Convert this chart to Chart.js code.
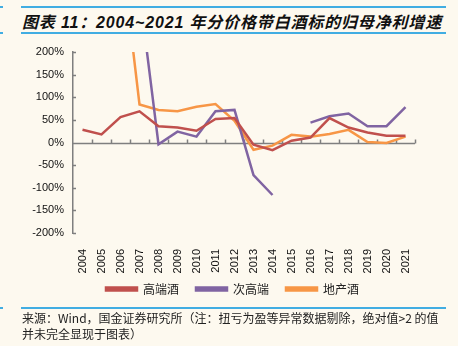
<!DOCTYPE html>
<html>
<head>
<meta charset="utf-8">
<script src="https://cdn.jsdelivr.net/npm/chart.js@4.4.1/dist/chart.umd.min.js"></script>
<style>
  html, body { margin: 0; padding: 0; background: #fdf9ef; }
  #wrap { position: relative; width: 458px; height: 346px; overflow: hidden; }
  #chart { position: absolute; left: 0; top: 0; }
  .rule { position: absolute; height: 2px; background: #41ade2; }
  #title {
    position: absolute; left: 22px; top: 9px;
    font: italic bold 16px "Liberation Sans", "Noto Sans CJK SC", sans-serif;
    color: #111; white-space: nowrap;
  }
  #source {
    position: absolute; left: 22px; top: 310px; width: 425px;
    font: 12px "Noto Sans CJK SC", sans-serif; line-height: 16px; color: #222;
  }
</style>
</head>
<body>
<div id="wrap">
  <div class="rule" style="left:21px;top:6px;width:425px"></div>
  <div class="rule" style="left:0;top:6px;width:3px"></div>
  <div id="title">图表 11：2004~2021 年分价格带白酒标的归母净利增速</div>
  <div class="rule" style="left:21px;top:32px;width:425px"></div>
  <div class="rule" style="left:0;top:32px;width:3px"></div>
  <canvas id="chart" width="458" height="346"></canvas>
  <div class="rule" style="left:21px;top:307px;width:425px"></div>
  <div class="rule" style="left:0;top:307px;width:3px"></div>
  <div id="source">来源：Wind，国金证券研究所（注：扭亏为盈等异常数据剔除，绝对值&gt;2 的值并未完全显现于图表）</div>
</div>
<script>
// years on the x axis
const years = ['2004', '2005', '2006', '2007', '2008', '2009', '2010', '2011', '2012',
  '2013', '2014', '2015', '2016', '2017', '2018', '2019', '2020', '2021'];

// net profit growth, % (values above 200% run off the top of the chart)
const highEnd = [28, 18, 56, 69, 36, 33, 26, 52, 54, -5, -17, 4, 11, 54, 33, 22, 15, 15];
const subHighEnd = [null, null, null, 332, -4, 24, 13, 69, 72, -72, -116, null, 44, 58, 64, 36, 36, 78];
const regional = [null, null, 440, 84, 72, 69, 79, 85, 48, -16, -7, 17, 13, 19, 28, 1, -1, 13];

const seriesNames = ['高端酒', '次高端', '地产酒'];
const seriesColors = ['#c0504d', '#8064a2', '#f79646'];

const axisGrey = '#7f7f7f';
const labelFont = { family: '"Liberation Sans", Arial, sans-serif', size: 11 };

// stretch the title to the width of the blue rules
const title = document.getElementById('title');
const chars = title.textContent.length;
title.style.letterSpacing = Math.max(0, (420 - title.offsetWidth) / chars) + 'px';

// zero line with category tick marks, plus small inner ticks on the y axis
const zeroAxis = {
  id: 'zeroAxis',
  afterLayout(chart) {
    // centre the legend under the plot rather than the whole canvas
    chart.legend.left = 50;
    chart.legend.top -= 9;
  },
  beforeDatasetsDraw(chart) {
    const { ctx, chartArea, scales } = chart;
    const y0 = Math.round(scales.y.getPixelForValue(0)) + 0.5;
    ctx.save();
    ctx.strokeStyle = axisGrey;
    ctx.lineWidth = 1.5;
    ctx.beginPath();
    ctx.moveTo(chartArea.left, y0);
    ctx.lineTo(chartArea.right, y0);
    const step = (chartArea.right - chartArea.left) / years.length;
    for (let i = 1; i <= years.length; i++) {
      const x = Math.round(chartArea.left + step * i) + 0.5;
      ctx.moveTo(x, y0);
      ctx.lineTo(x, y0 - 4);
    }
    scales.y.ticks.forEach(t => {
      const y = Math.round(scales.y.getPixelForValue(t.value)) + 0.5;
      ctx.moveTo(chartArea.left, y);
      ctx.lineTo(chartArea.left + 3, y);
    });
    ctx.stroke();
    ctx.restore();
  }
};

const datasets = [highEnd, subHighEnd, regional].map((data, i) => ({
  label: seriesNames[i],
  data: data,
  borderColor: seriesColors[i],
  backgroundColor: seriesColors[i],
  borderWidth: 2.5,
  pointRadius: 0,
  tension: 0,
  spanGaps: false
}));

new Chart(document.getElementById('chart'), {
  type: 'line',
  data: { labels: years, datasets: datasets },
  plugins: [zeroAxis],
  options: {
    responsive: false,
    animation: false,
    layout: { padding: { left: 0, right: 43, top: 52, bottom: 32 } },
    scales: {
      x: {
        offset: true,
        grid: { display: false },
        border: { display: false },
        ticks: {
          color: '#111',
          font: labelFont,
          minRotation: 90,
          maxRotation: 90,
          autoSkip: false,
          padding: 8
        },
        afterFit(scale) { scale.height = 42; }
      },
      y: {
        min: -200,
        max: 200,
        grid: { display: false, drawTicks: false },
        border: { display: true, color: axisGrey, width: 1.5 },
        ticks: {
          stepSize: 50,
          color: '#111',
          font: labelFont,
          padding: 9,
          callback: v => v + '%'
        },
        afterFit(scale) { scale.width = 73; }
      }
    },
    plugins: {
      legend: {
        position: 'bottom',
        labels: {
          boxWidth: 31,
          boxHeight: 3,
          padding: 17,
          color: '#222',
          font: { family: '"Noto Sans CJK SC", sans-serif', size: 12 }
        }
      },
      tooltip: { enabled: false }
    }
  }
});
</script>
</body>
</html>
